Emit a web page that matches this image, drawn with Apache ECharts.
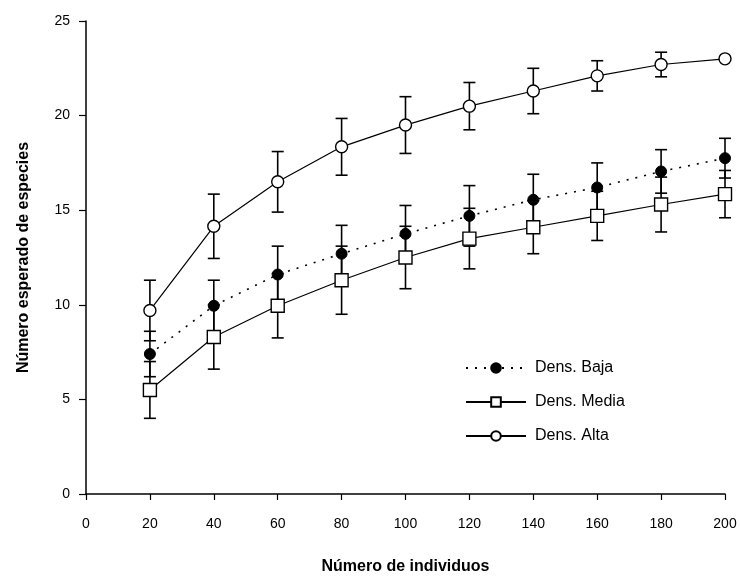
<!DOCTYPE html>
<html>
<head>
<meta charset="utf-8">
<script src="https://cdn.jsdelivr.net/npm/echarts@6/dist/echarts.min.js"></script>
<style>html,body{margin:0;padding:0;background:#fff}#c{width:740px;height:580px}</style>
</head>
<body>
<div id="c"></div>
<script>
const xValues = [20, 40, 60, 80, 100, 120, 140, 160, 180, 200];
const bajaValues = [7.4, 9.95, 11.6, 12.7, 13.75, 14.7, 15.55, 16.2, 17.05, 17.75];
const bajaErr = [1.2, 1.35, 1.5, 1.5, 1.5, 1.6, 1.35, 1.3, 1.15, 1.05];
const mediaValues = [5.5, 8.3, 9.95, 11.3, 12.5, 13.5, 14.1, 14.7, 15.3, 15.85];
const mediaErr = [1.5, 1.7, 1.7, 1.8, 1.65, 1.6, 1.4, 1.3, 1.45, 1.25];
const altaValues = [9.7, 14.15, 16.5, 18.35, 19.5, 20.5, 21.3, 22.1, 22.7, 23.0];
const altaErr = [1.6, 1.7, 1.6, 1.5, 1.5, 1.25, 1.2, 0.8, 0.65, 0.05];
const seriesNames = ['Dens. Baja', 'Dens. Media', 'Dens. Alta'];

const FONT = '"Liberation Sans", Arial, sans-serif';

function pairs(vals) { return xValues.map((x, i) => [x, vals[i]]); }
function errData(vals, errs) { return xValues.map((x, i) => [x, vals[i] - errs[i], vals[i] + errs[i]]); }

function errorSeries(vals, errs) {
  return {
    type: 'custom',
    data: errData(vals, errs),
    z: 1,
    silent: true,
    renderItem: function (params, api) {
      const x = api.value(0);
      const lo = api.coord([x, api.value(1)]);
      const hi = api.coord([x, api.value(2)]);
      const w = 6;
      const st = { stroke: '#000', lineWidth: 1.6 };
      return {
        type: 'group',
        children: [
          { type: 'line', shape: { x1: lo[0], y1: lo[1], x2: hi[0], y2: hi[1] }, style: st },
          { type: 'line', shape: { x1: lo[0] - w, y1: lo[1], x2: lo[0] + w, y2: lo[1] }, style: st },
          { type: 'line', shape: { x1: hi[0] - w, y1: hi[1], x2: hi[0] + w, y2: hi[1] }, style: st }
        ]
      };
    }
  };
}

const chart = echarts.init(document.getElementById('c'), null, { renderer: 'canvas' });
chart.setOption({
  animation: false,
  backgroundColor: '#fff',
  grid: { left: 86, right: 15, top: 21, bottom: 81 },
  legend: {
    orient: 'vertical',
    left: 460,
    top: 355,
    itemWidth: 60,
    itemHeight: 12,
    itemGap: 18,
    textStyle: { fontFamily: FONT, fontSize: 16, color: '#000', padding: [0, 0, 0, 4] },
    data: seriesNames
  },
  xAxis: {
    type: 'value',
    min: 0, max: 200, interval: 20,
    name: 'Número de individuos',
    nameLocation: 'middle',
    nameGap: 65,
    nameTextStyle: { fontFamily: FONT, fontSize: 16, fontWeight: 'bold', color: '#000' },
    axisLine: { lineStyle: { color: '#000', width: 1.5 } },
    axisTick: { show: true, length: 6, lineStyle: { color: '#000', width: 1.2 } },
    axisLabel: { fontFamily: FONT, fontSize: 14, color: '#000', margin: 23 },
    splitLine: { show: false }
  },
  yAxis: {
    type: 'value',
    min: 0, max: 25, interval: 5,
    name: 'Número esperado de especies',
    nameLocation: 'middle',
    nameGap: 54,
    nameTextStyle: { fontFamily: FONT, fontSize: 16, fontWeight: 'bold', color: '#000' },
    axisLine: { show: true, lineStyle: { color: '#000', width: 1.5 } },
    axisTick: { show: true, length: 7, lineStyle: { color: '#000', width: 1.2 } },
    axisLabel: { fontFamily: FONT, fontSize: 14, color: '#000', margin: 16 },
    splitLine: { show: false }
  },
  series: [
    errorSeries(bajaValues, bajaErr),
    errorSeries(mediaValues, mediaErr),
    errorSeries(altaValues, altaErr),
    {
      name: seriesNames[0], type: 'line', data: pairs(bajaValues), z: 3,
      symbol: 'circle', symbolSize: 11,
      lineStyle: { color: '#000', width: 1.6, type: [2, 7] },
      itemStyle: { color: '#000', borderColor: '#000', borderWidth: 1 }
    },
    {
      name: seriesNames[1], type: 'line', data: pairs(mediaValues), z: 3,
      symbol: 'rect', symbolSize: 13,
      lineStyle: { color: '#000', width: 1.2 },
      itemStyle: { color: '#fff', borderColor: '#000', borderWidth: 1.4 }
    },
    {
      name: seriesNames[2], type: 'line', data: pairs(altaValues), z: 3,
      symbol: 'circle', symbolSize: 12,
      lineStyle: { color: '#000', width: 1.2 },
      itemStyle: { color: '#fff', borderColor: '#000', borderWidth: 1.4 }
    }
  ]
});
</script>
</body>
</html>
